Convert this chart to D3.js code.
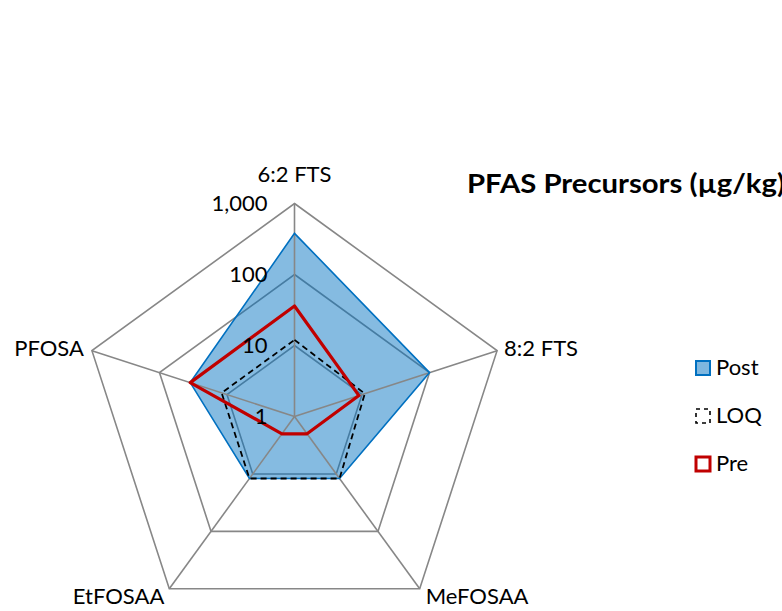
<!DOCTYPE html>
<html><head><meta charset="utf-8">
<script src="https://cdn.jsdelivr.net/npm/d3@7/dist/d3.min.js"></script>
<style>body{margin:0;background:#fff}svg{display:block}</style>
</head><body>
<svg id="chart" width="782" height="611"></svg>
<script>
const categories = ["6:2 FTS", "8:2 FTS", "MeFOSAA", "EtFOSAA", "PFOSA"];
const postValues = [380, 100, 12, 12, 35];
const loqValues = [12, 11, 12, 12, 12];
const preValues = [36, 9, 2, 2, 35];
const tickValues = [1, 10, 100, 1000];
const tickLabels = ["1", "10", "100", "1,000"];
const seriesNames = ["Post", "LOQ", "Pre"];

const W = 782, H = 611;
const cx = 294.5, cy = 416.5, R = 213;
const FONT = "Lato, 'Open Sans', sans-serif";
const svg = d3.select("#chart");

const r = d3.scaleLog().domain([1, 1000]).range([0, R]);
const angle = d3.scalePoint().domain(categories).range([0, 2 * Math.PI * (categories.length - 1) / categories.length]);
const pt = (c, v) => {
  const a = angle(c) - Math.PI / 2;
  const rr = r(v);
  return [cx + rr * Math.cos(a), cy + rr * Math.sin(a)];
};
const line = d3.line().curve(d3.curveLinearClosed);

// rings
svg.append("g").selectAll("path").data(tickValues.filter(v => v > 1)).join("path")
  .attr("d", v => line(categories.map(c => pt(c, v))))
  .attr("fill", "none").attr("stroke", "#878787").attr("stroke-width", 1.6);

// Post fill
const postPts = categories.map((c, i) => pt(c, postValues[i]));
svg.append("path").attr("d", line(postPts))
  .attr("fill", "#0070C0").attr("fill-opacity", 0.48).attr("stroke", "none");

// spokes
svg.append("g").selectAll("line").data(categories).join("line")
  .attr("x1", cx).attr("y1", cy)
  .attr("x2", c => pt(c, 1000)[0]).attr("y2", c => pt(c, 1000)[1])
  .attr("stroke", "#878787").attr("stroke-width", 1.6);

// Post stroke
svg.append("path").attr("d", line(postPts))
  .attr("fill", "none").attr("stroke", "#0070C0").attr("stroke-width", 1.6);

// LOQ
svg.append("path").attr("d", line(categories.map((c, i) => pt(c, loqValues[i]))))
  .attr("fill", "none").attr("stroke", "#000").attr("stroke-width", 1.8)
  .attr("stroke-dasharray", "6,4");

// Pre
svg.append("path").attr("d", line(categories.map((c, i) => pt(c, preValues[i]))))
  .attr("fill", "none").attr("stroke", "#C00000").attr("stroke-width", 3.2)
  .attr("stroke-linejoin", "round");

// tick labels
svg.append("g").selectAll("text").data(tickValues).join("text")
  .attr("x", cx - 27).attr("y", v => cy - r(v) + 2)
  .attr("text-anchor", "end").attr("dominant-baseline", "middle")
  .attr("font-family", FONT).attr("font-size", 22).attr("fill", "#000")
  .text((v, i) => tickLabels[i]);

// category labels
const labelOffsets = [
  {dx: 0, dy: -27, anchor: "middle"},
  {dx: 7, dy: 0, anchor: "start"},
  {dx: 6, dy: 10, anchor: "start"},
  {dx: -5, dy: 10, anchor: "end"},
  {dx: -8, dy: 0, anchor: "end"}
];
svg.append("g").selectAll("text").data(categories).join("text")
  .attr("x", (c, i) => pt(c, 1000)[0] + labelOffsets[i].dx)
  .attr("y", (c, i) => pt(c, 1000)[1] + labelOffsets[i].dy)
  .attr("text-anchor", (c, i) => labelOffsets[i].anchor)
  .attr("dominant-baseline", "middle")
  .attr("font-family", FONT).attr("font-size", 22).attr("fill", "#000")
  .text(c => c);

// title
svg.append("text").attr("x", 467).attr("y", 186)
  .attr("dominant-baseline", "middle")
  .attr("font-family", FONT).attr("font-weight", "bold").attr("font-size", 26)
  .attr("textLength", 318).attr("lengthAdjust", "spacingAndGlyphs")
  .attr("fill", "#000").text("PFAS Precursors (µg/kg)");

// legend
const legY = d3.scalePoint().domain(seriesNames).range([368, 464]);
const lg = svg.append("g");
lg.append("rect").attr("x", 696).attr("y", legY("Post") - 7).attr("width", 14).attr("height", 14)
  .attr("fill", "#7FB7DF").attr("stroke", "#0070C0").attr("stroke-width", 2);
lg.append("rect").attr("x", 696).attr("y", legY("LOQ") - 7).attr("width", 14).attr("height", 14)
  .attr("fill", "none").attr("stroke", "#000").attr("stroke-width", 1.6).attr("stroke-dasharray", "4,4");
lg.append("rect").attr("x", 696).attr("y", legY("Pre") - 7).attr("width", 14).attr("height", 14)
  .attr("fill", "#fff").attr("stroke", "#C00000").attr("stroke-width", 3);
lg.selectAll("text").data(seriesNames).join("text")
  .attr("x", 716).attr("y", d => legY(d) + 1)
  .attr("dominant-baseline", "middle")
  .attr("font-family", FONT).attr("font-size", 22).attr("fill", "#000")
  .text(d => d);
</script>
</body></html>
